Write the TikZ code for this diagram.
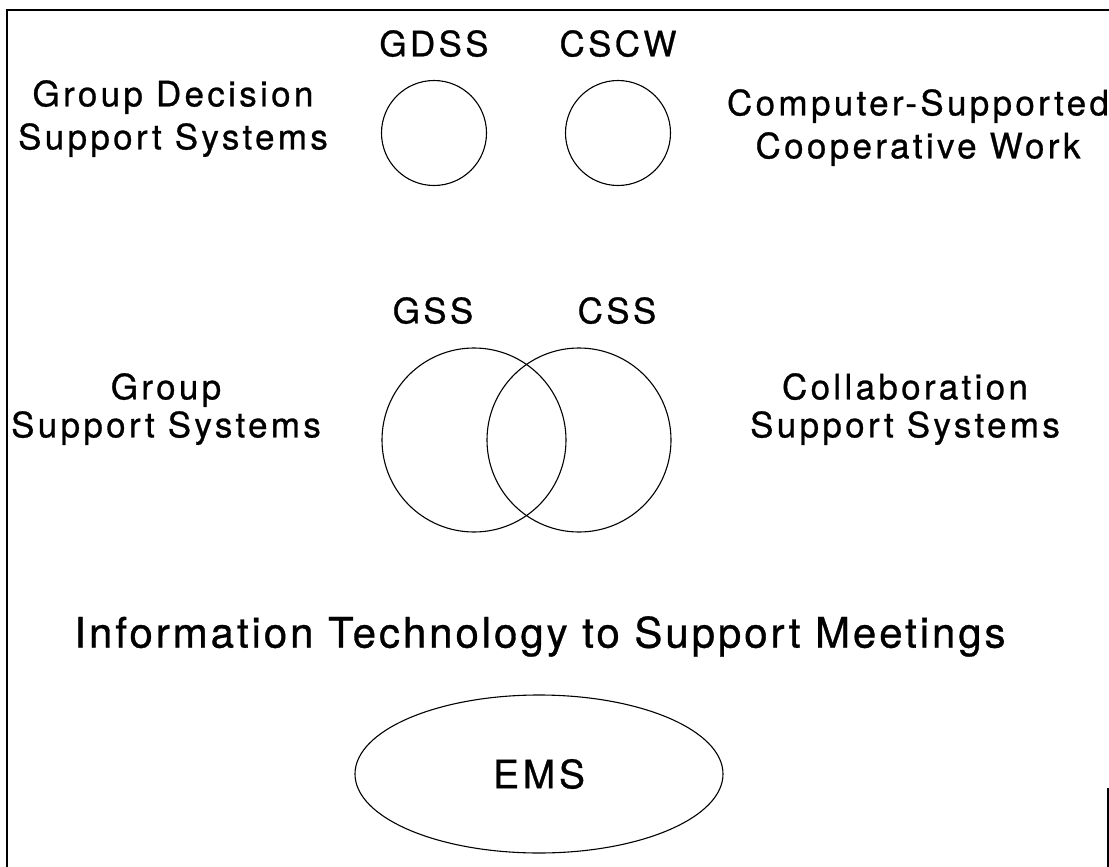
\documentclass[tikz,border=0pt]{standalone}
\usepackage{fontspec}
\setmainfont{TeX Gyre Heros}[LetterSpace=9.5, FakeBold=0.8]
\usetikzlibrary{shapes.geometric}
\begin{document}
\begin{tikzpicture}[x=1pt,y=-1pt,
  lbl/.style={inner sep=0pt, anchor=north, align=center,
              font=\fontsize{35}{43}\selectfont},
  lblnarrow/.style={lbl, font=\fontsize{35}{38}\selectfont},
  set/.style={circle, draw, line width=1.1pt, inner sep=0pt},
  frame/.style={line width=1.8pt}]
\useasboundingbox (0,0) rectangle (1109,867);

% frame
\draw[frame] (7,867) -- (7,10) -- (1109,10);
\draw[frame] (1108,788) -- (1108,867);

% top row: separate fields
\node[set, minimum size=105pt] (gdss) at (434,133) {};
\node[set, minimum size=105pt] (cscw) at (618,133) {};
\node[lbl] (gdsslbl) at (434,30) {GDSS};
\node[lbl] (cscwlbl) at (618,30) {CSCW};
\node[lbl] (gdssname) at (173,80) {Group Decision\\Support Systems};
\node[lbl] (cscwname) at (918,89) {Computer-Supported\\Cooperative Work};

% middle row: overlapping fields
\node[set, minimum size=184pt] (gss) at (474,440) {};
\node[set, minimum size=184pt] (css) at (579,440) {};
\node[lbl] (gsslbl) at (433,297) {GSS};
\node[lbl] (csslbl) at (617,297) {CSS};
\node[lblnarrow] (gssname) at (166,373) {Group\\Support Systems};
\node[lblnarrow] (cssname) at (905,373) {Collaboration\\Support Systems};

% bottom: umbrella term
\node[lbl, font=\fontsize{42}{50}\selectfont\addfontfeatures{LetterSpace=7}]
  (itsm) at (540,616) {Information Technology to Support Meetings};
\node[ellipse, draw, line width=1.1pt, minimum width=368pt, minimum height=158pt,
  inner sep=0pt, font=\fontsize{39}{45}\selectfont] (ems) at (539,774) {EMS};
\end{tikzpicture}
\end{document}
